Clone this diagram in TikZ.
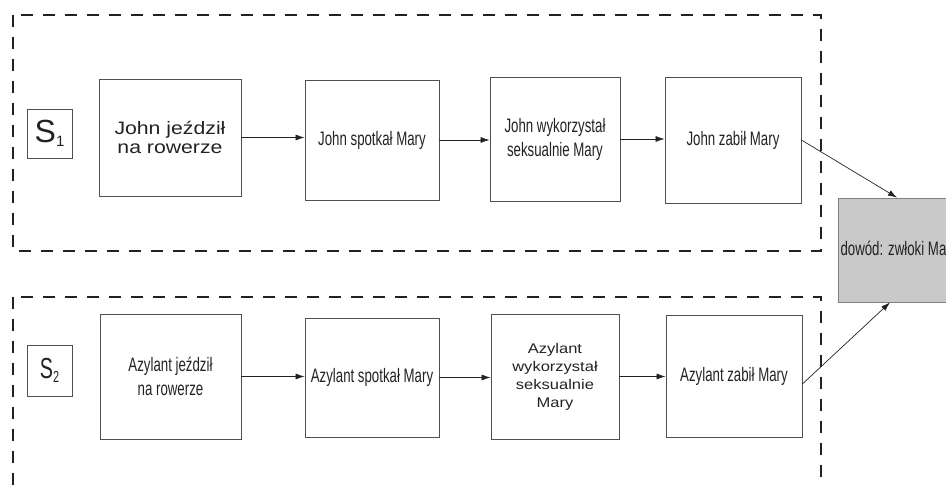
\documentclass[tikz,border=0pt]{standalone}
\usepackage{fontspec}
\setmainfont{Liberation Sans}
\newfontfamily\widefont[FakeStretch=1.18]{Liberation Sans}
\newfontfamily\narrowfont[FakeStretch=0.68]{Liberation Sans}
\usetikzlibrary{arrows.meta}
\definecolor{ink}{HTML}{222222}
\definecolor{rim}{HTML}{505050}
\definecolor{proof}{HTML}{C9C9C9}
\tikzset{
  stage/.style={draw=rim, line width=0.8pt, align=center, inner sep=0pt, text=ink},
  frame/.style={line width=2.6pt, color=ink, dash pattern=on 12pt off 10pt},
  link/.style={-{Latex[length=9pt,width=6pt]}, line width=0.7pt, color=ink},
  narrow/.style={font=\narrowfont\fontsize{19.5}{24}\selectfont},
  wide/.style={font=\widefont\fontsize{18}{18.5}\selectfont}
}
\begin{document}
\begin{tikzpicture}[x=1pt,y=-1pt]
\useasboundingbox (0,0) rectangle (946,487);
\clip (0,0) rectangle (946,487);

\draw[frame] (13,15) rectangle (821,251);
\draw[frame] (13,297) rectangle (821,500);

\node[stage, minimum width=45, minimum height=49] (s1) at (49.5,133.5) {\fontsize{32}{32}\selectfont S\raisebox{-4pt}{\fontsize{15}{15}\selectfont 1}};
\node[stage, wide, minimum width=142, minimum height=117] (j1) at (170,137.5) {John jeździł\\na rowerze};
\node[stage, narrow, minimum width=134, minimum height=120] (j2) at (372,140) {John spotkał Mary};
\node[stage, narrow, minimum width=130, minimum height=124] (j3) at (555,139) {John wykorzystał\\seksualnie Mary};
\node[stage, narrow, minimum width=136, minimum height=126] (j4) at (733,140) {John zabił Mary};

\node[stage, minimum width=45, minimum height=51] (s2) at (49.5,370.5) {\narrowfont\fontsize{29}{29}\selectfont S\raisebox{-4pt}{\fontsize{16}{16}\selectfont 2}};
\node[stage, narrow, minimum width=141, minimum height=125] (a1) at (170.5,376.5) {Azylant jeździł\\na rowerze};
\node[stage, narrow, minimum width=134, minimum height=119] (a2) at (372,377.5) {Azylant spotkał Mary};
\node[stage, font=\widefont\fontsize{14}{18}\selectfont, minimum width=128, minimum height=125] (a3) at (555,376.5) {Azylant\\wykorzystał\\seksualnie\\Mary};
\node[stage, narrow, minimum width=136, minimum height=122] (a4) at (734,376) {Azylant zabił Mary};

\node[stage, narrow, draw=gray, fill=proof, minimum width=122, minimum height=104] (dowod) at (899,250) {dowód: zwłoki Mary};

\draw[link] (j1.east) -- (j1.east -| j2.west);
\draw[link] (j2.east) -- (j2.east -| j3.west);
\draw[link] (j3.east) -- (j3.east -| j4.west);
\draw[link] (a1.east) -- (a1.east -| a2.west);
\draw[link] (a2.east) -- (a2.east -| a3.west);
\draw[link] (a3.east) -- (a3.east -| a4.west);

\draw[link] (j4.east) -- ([xshift=-2pt]dowod.north);
\draw[link] ([yshift=-8pt]a4.east) -- ([xshift=-9pt]dowod.south);
\end{tikzpicture}
\end{document}
